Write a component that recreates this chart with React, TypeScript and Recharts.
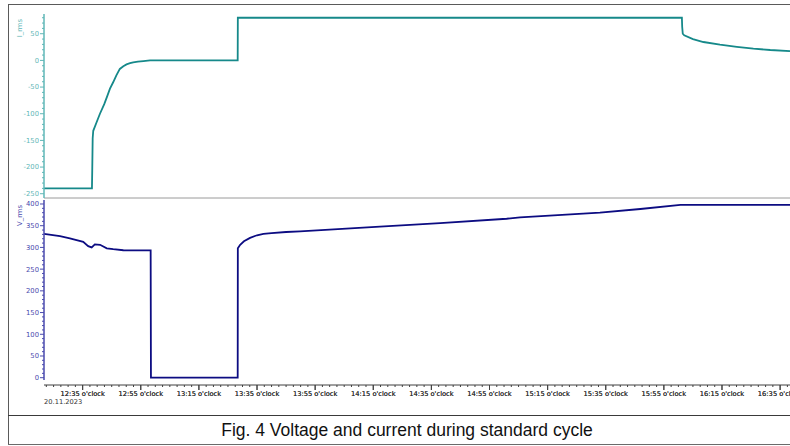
import { Line, LineChart, XAxis, YAxis } from "recharts";

// time in minutes since midnight (20.11.2023)
const currentTime = [741.7, 758.2, 758.3, 758.45, 758.65, 759.8, 760.95, 762.43, 763.4, 764.4, 765.5, 766.6, 767.8, 769.0, 770.1, 771.3, 772.4, 774.0, 775.9, 778.2, 808.35, 808.4, 961.2, 961.3, 961.5, 962.0, 965.0, 968.6, 974.3, 980.1, 985.8, 991.6, 998.4];
const currentValue = [-240, -240, -206, -146, -132, -116, -100, -82, -68, -53, -41, -28, -16, -11, -7.5, -5.3, -3.8, -2.3, -1.3, 0, 0, 80, 80, 63, 50, 47, 40, 34.5, 29.6, 25.5, 22, 19.5, 17.5];

const voltageTime = [741.7, 747.2, 750.6, 755.2, 756.9, 758.1, 759.2, 761.0, 763.3, 765.5, 769.0, 778.4, 778.5, 808.35, 808.4, 809.2, 810.5, 812.6, 815.0, 817.2, 820.0, 825.0, 829.8, 857.3, 878.0, 900.9, 905.5, 933.0, 946.9, 960.7, 972.4, 998.4];
const voltageValue = [331, 326, 321, 313, 303, 300, 307, 306, 298, 296, 293.5, 293, 0, 0, 298, 306, 314, 322, 328, 331, 333, 335.5, 337, 348, 356, 366, 369, 380, 388.5, 398, 398, 398];

const timeTicks = [755, 775, 795, 815, 835, 855, 875, 895, 915, 935, 955, 975, 995];
const timeLabels = ["12:35 o'clock", "12:55 o'clock", "13:15 o'clock", "13:35 o'clock", "13:55 o'clock", "14:15 o'clock", "14:35 o'clock", "14:55 o'clock", "15:15 o'clock", "15:35 o'clock", "15:55 o'clock", "16:15 o'clock", "16:35 o'clock"];
const dateLabel = "20.11.2023";

const currentLabels = [-250, -200, -150, -100, -50, 0, 50];
const voltageLabels = [0, 50, 100, 150, 200, 250, 300, 350, 400];
const caption = "Fig. 4 Voltage and current during standard cycle";

const T0 = 741.7;
const T1 = 998.4;

const currentData = currentTime.map((t, i) => ({ t, v: currentValue[i] }));
const voltageData = voltageTime.map((t, i) => ({ t, v: voltageValue[i] }));

function range(from: number, to: number, step: number) {
  const out: number[] = [];
  for (let v = from; v <= to + 1e-9; v += step) out.push(Math.round(v * 10) / 10);
  return out;
}

const currentTicks = range(-250, 80, 10);
const voltageTicks = range(0, 400, 10);
const minorTimeTicks = range(742.5, 997.5, 2.5);

const TEAL = "#16898a";
const TEAL_AXIS = "#5fb7b7";
const NAVY = "#0c0c82";
const NAVY_AXIS = "#4a4aae";

function YTick(props: any) {
  const { x, y, payload, color, labels } = props;
  const major = labels.includes(payload.value);
  return (
    <g>
      <line x1={x} x2={x - (major ? 4 : 2)} y1={y} y2={y} stroke={color} strokeWidth={1} />
      {major && (
        <text x={x - 5} y={y} dy={2.4} textAnchor="end" fontSize={6.8} fill={color} fontFamily="DejaVu Sans, sans-serif">
          {payload.value}
        </text>
      )}
    </g>
  );
}

function XTick(props: any) {
  const { x, y, payload } = props;
  const idx = timeTicks.indexOf(payload.value);
  const major = idx >= 0;
  return (
    <g>
      <line x1={x} x2={x} y1={y + 5} y2={y + (major ? 10 : 7)} stroke="#404040" strokeWidth={1} />
      {major && (
        <text x={x} y={y + 15.5} textAnchor="middle" fontSize={6.7} fill="#333" fontFamily="DejaVu Sans, sans-serif">
          {timeLabels[idx]}
        </text>
      )}
    </g>
  );
}

function AxisTitle(props: any) {
  const { viewBox, value, color, offset } = props;
  const x = viewBox.x + 22;
  const y = viewBox.y + offset;
  return (
    <text x={x} y={y} transform={`rotate(-90 ${x} ${y})`} textAnchor="end" fontSize={6.8} fill={color} fontFamily="DejaVu Sans, sans-serif">
      {value}
    </text>
  );
}

const line = (l: number, t: number, w: number, h: number, c: string) => (
  <div style={{ position: "absolute", left: l, top: t, width: w, height: h, background: c }} />
);

export default function App() {
  const allTimeTicks = [...minorTimeTicks, ...timeTicks].sort((a, b) => a - b);
  return (
    <div style={{ position: "absolute", left: 0, top: 0, width: 790, height: 446, background: "#fff", overflow: "hidden" }}>
      <div style={{ position: "absolute", left: 0, top: 0 }}>
        <LineChart width={790} height={201} data={currentData} margin={{ top: 14, right: 0, bottom: 2, left: 0 }}>
          <XAxis type="number" dataKey="t" domain={[T0, T1]} allowDataOverflow ticks={[]} tick={false} tickLine={false} axisLine={{ stroke: "#9a9a9a" }} height={1} />
          <YAxis
            type="number"
            domain={[-258, 87]}
            allowDataOverflow
            ticks={currentTicks}
            interval={0}
            width={44}
            tickSize={0}
            tickMargin={0}
            tickLine={false}
            axisLine={{ stroke: TEAL_AXIS, strokeWidth: 1.5 }}
            tick={<YTick color={TEAL_AXIS} labels={currentLabels} />}
            label={<AxisTitle value="I_rms" color={TEAL_AXIS} offset={1} />}
          />
          <Line dataKey="v" type="linear" stroke={TEAL} strokeWidth={1.8} dot={false} isAnimationActive={false} />
        </LineChart>
      </div>
      <div style={{ position: "absolute", left: 0, top: 196 }}>
        <LineChart width={790} height={250} data={voltageData} margin={{ top: 4, right: 0, bottom: 36, left: 0 }}>
          <XAxis
            type="number"
            dataKey="t"
            domain={[T0, T1]}
            allowDataOverflow
            ticks={allTimeTicks}
            interval={0}
            height={30}
            tickSize={0}
            tickMargin={0}
            tickLine={false}
            axisLine={{ stroke: "#404040", transform: "translate(0,5)" }}
            tick={<XTick />}
          />
          <YAxis
            type="number"
            domain={[-5.3, 409.2]}
            allowDataOverflow
            ticks={voltageTicks}
            interval={0}
            width={44}
            tickSize={0}
            tickMargin={0}
            tickLine={false}
            axisLine={{ stroke: NAVY_AXIS, strokeWidth: 1.5 }}
            tick={<YTick color={NAVY_AXIS} labels={voltageLabels} />}
            label={<AxisTitle value="V_rms" color={NAVY_AXIS} offset={2} />}
          />
          <Line dataKey="v" type="linear" stroke={NAVY} strokeWidth={1.8} dot={false} isAnimationActive={false} />
        </LineChart>
      </div>
      <div style={{ position: "absolute", left: 44, top: 398, fontSize: 6.7, lineHeight: "8px", color: "#333", fontFamily: "DejaVu Sans, sans-serif" }}>
        {dateLabel}
      </div>
      {line(8, 3.5, 782, 1.5, "#5a5a5a")}
      {line(7.5, 4, 1.5, 441, "#5a5a5a")}
      {line(8, 414.5, 782, 1.5, "#3a3a3a")}
      {line(8, 443.5, 782, 1.5, "#6a6a6a")}
      <div
        style={{
          position: "absolute",
          left: 8,
          top: 416,
          width: 798,
          height: 28,
          lineHeight: "28px",
          textAlign: "center",
          fontSize: 17.5,
          color: "#111",
          fontFamily: "Liberation Sans, Arial, sans-serif",
        }}
      >
        {caption}
      </div>
    </div>
  );
}
